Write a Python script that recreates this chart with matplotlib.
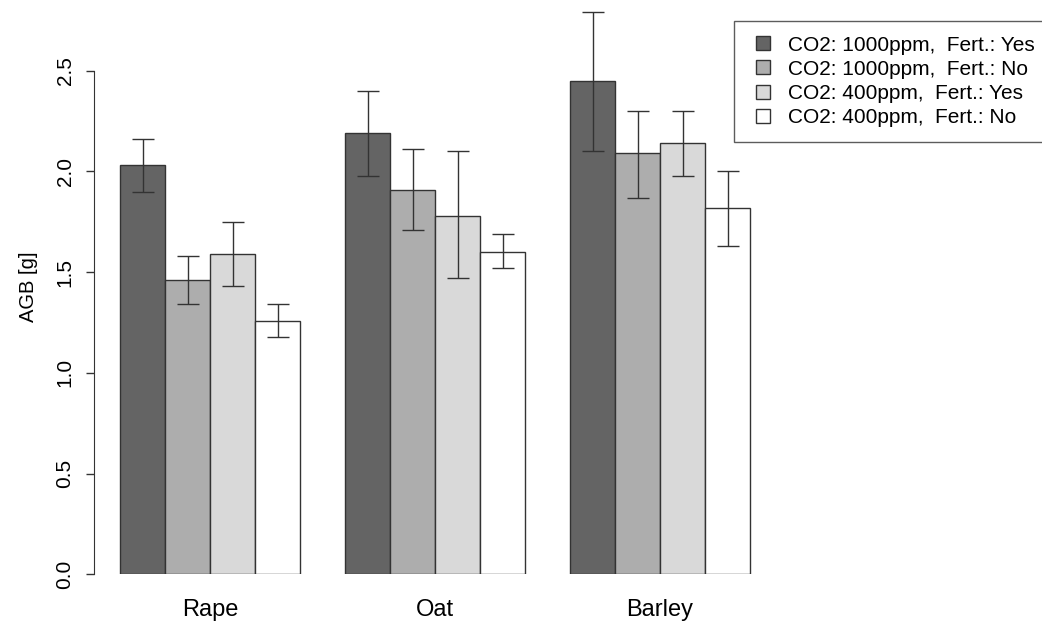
import matplotlib
matplotlib.use('Agg')
import matplotlib.pyplot as plt
from matplotlib.lines import Line2D
import numpy as np

# --- data ---
crops = ['Rape', 'Oat', 'Barley']
series = ['CO2: 1000ppm,  Fert.: Yes', 'CO2: 1000ppm,  Fert.: No',
          'CO2: 400ppm,  Fert.: Yes', 'CO2: 400ppm,  Fert.: No']
# mean AGB per crop, one list per treatment
agb_1000_yes = [2.03, 2.19, 2.45]
agb_1000_no = [1.46, 1.91, 2.09]
agb_400_yes = [1.59, 1.78, 2.14]
agb_400_no = [1.26, 1.60, 1.82]
# error bar ends
upper_1000_yes = [2.16, 2.40, 2.79]
lower_1000_yes = [1.90, 1.98, 2.10]
upper_1000_no = [1.58, 2.11, 2.30]
lower_1000_no = [1.34, 1.71, 1.87]
upper_400_yes = [1.75, 2.10, 2.30]
lower_400_yes = [1.43, 1.47, 1.98]
upper_400_no = [1.34, 1.69, 2.00]
lower_400_no = [1.18, 1.52, 1.63]
yticks = [0.0, 0.5, 1.0, 1.5, 2.0, 2.5]

means = [agb_1000_yes, agb_1000_no, agb_400_yes, agb_400_no]
uppers = [upper_1000_yes, upper_1000_no, upper_400_yes, upper_400_no]
lowers = [lower_1000_yes, lower_1000_no, lower_400_yes, lower_400_no]
colors = ['#646464', '#adadad', '#d9d9d9', '#ffffff']
edge = '#333333'

plt.rcParams['font.family'] = ['Liberation Sans', 'DejaVu Sans']

W, H = 1042, 622
fig = plt.figure(figsize=(W / 100, H / 100), dpi=100)
# plot region in pixels: left 94, bottom 574.3
ax = fig.add_axes([94 / W, (H - 574.3) / H, (W - 94) / W, 574.3 / H])

# R-style grouped layout: bar width 1, one empty slot between groups
group_starts = np.arange(len(crops)) * 5 + 1
for i in range(len(series)):
    x = group_starts + i + 0.5
    m = np.array(means[i])
    ax.bar(x, m, width=1.0, color=colors[i], edgecolor=edge, linewidth=1.0,
           zorder=2)
    yerr = [m - np.array(lowers[i]), np.array(uppers[i]) - m]
    ax.errorbar(x, m, yerr=yerr, fmt='none', ecolor=edge, elinewidth=1.0,
                capsize=8, capthick=1.0, zorder=3)

ax.set_xlim(1 - 26 / 45, 1 + (W - 120) / 45)
ax.set_ylim(0, 574.3 / 201.4)

for s in ['top', 'right', 'bottom']:
    ax.spines[s].set_visible(False)
ax.spines['left'].set_bounds(0, 2.5)
ax.spines['left'].set_color('#333333')
ax.set_yticks(yticks)
ax.set_yticklabels(['%.1f' % t for t in yticks], rotation=90, va='center',
                   fontsize=15)
ax.tick_params(axis='y', length=6, width=1.0, color='#333333', pad=8)
ax.set_ylabel('AGB [g]', fontsize=14.5, labelpad=13)

ax.set_xticks(group_starts + 2)
ax.set_xticklabels(crops, fontsize=17)
ax.tick_params(axis='x', length=0, pad=18)

handles = [Line2D([], [], linestyle='none', marker='s', markersize=9.4,
                  markerfacecolor=c, markeredgecolor=edge, markeredgewidth=1.0)
           for c in colors]
leg = ax.legend(handles, series, loc='upper left',
                bbox_to_anchor=(734 / W, 1 - 21 / H),
                bbox_transform=fig.transFigure, fontsize=15,
                frameon=True, fancybox=False, edgecolor='#333333',
                borderpad=0.7, handlelength=1.4, handletextpad=0.49,
                labelspacing=0.25, borderaxespad=0)
leg.get_frame().set_linewidth(1.0)

fig.savefig('out.png', dpi=100)
